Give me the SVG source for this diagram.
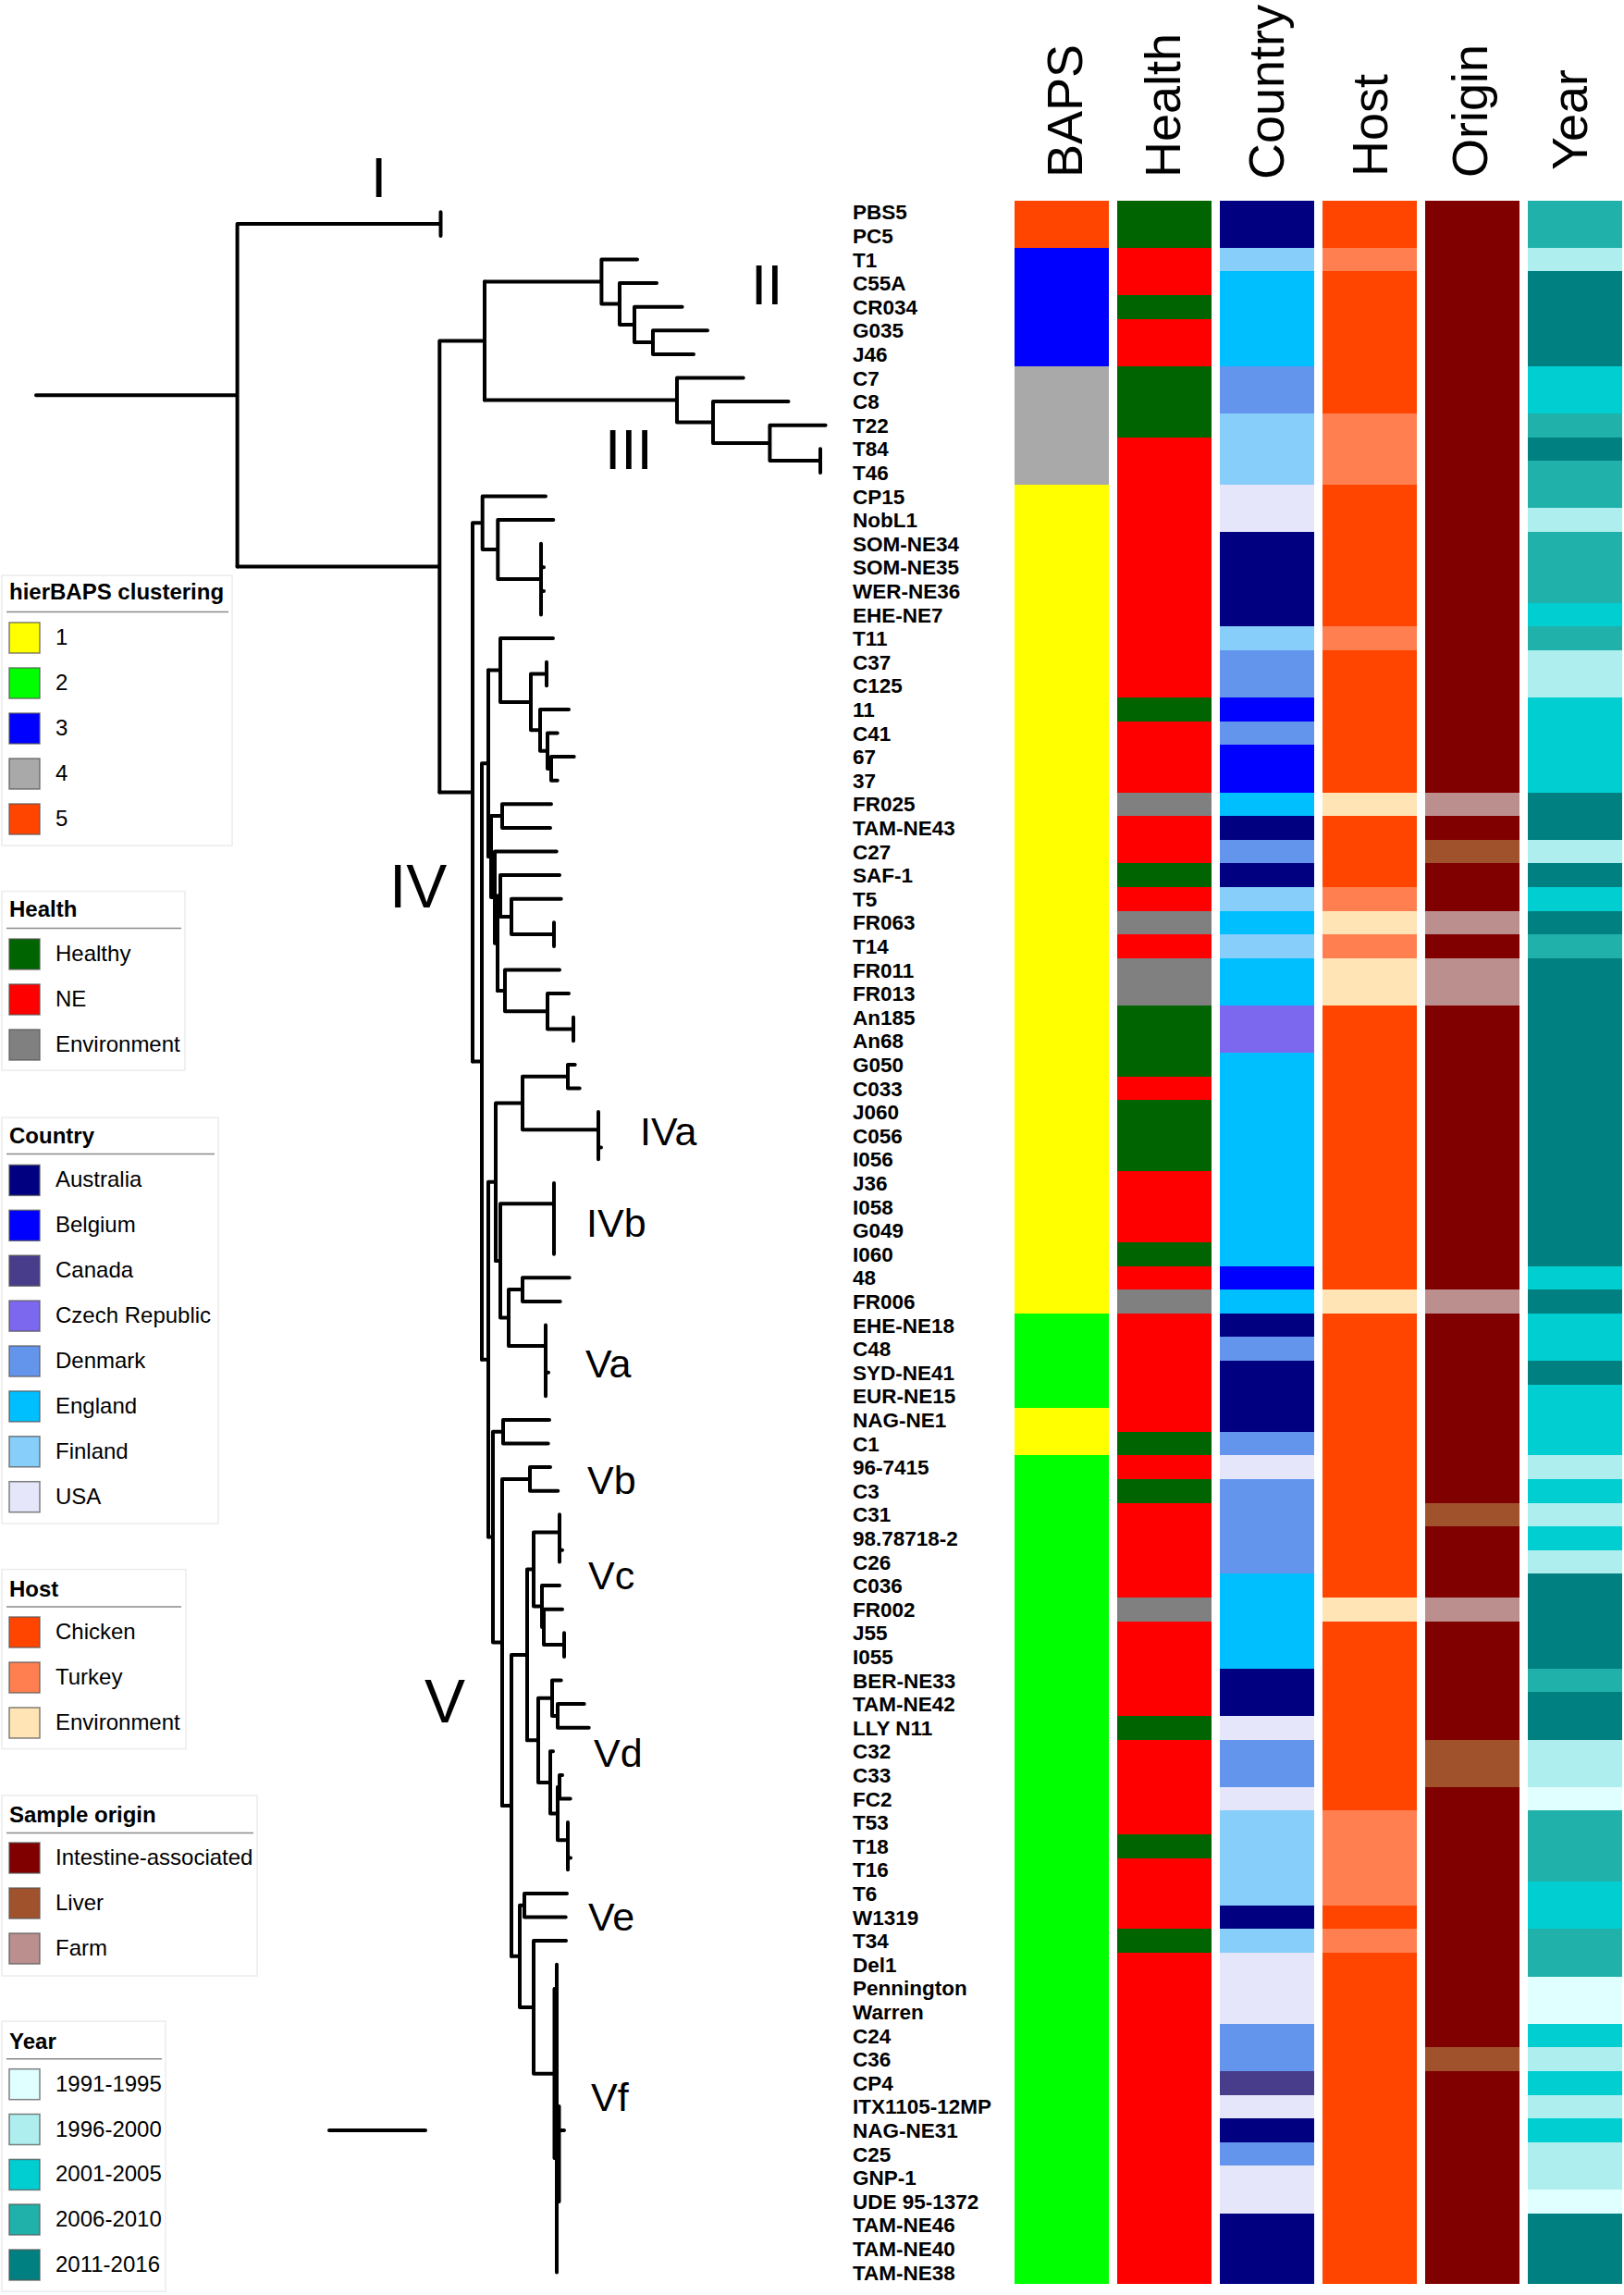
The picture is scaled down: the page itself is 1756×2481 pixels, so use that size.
<svg xmlns="http://www.w3.org/2000/svg" width="1756" height="2481" viewBox="0 0 1756 2481">
<style>
.br{fill:none;stroke:#000;stroke-width:4;stroke-linecap:round;stroke-linejoin:round}
.lab{font-family:"Liberation Sans",Arial,sans-serif;font-weight:bold;font-size:22.5px;fill:#000}
.hdr{font-family:"Liberation Sans",Arial,sans-serif;font-size:54px;fill:#000}
.cl{font-family:"Liberation Sans",Arial,sans-serif;fill:#000}
.big{font-size:62px}.bigger{font-size:66px}.sub{font-size:43px}
.lt{font-family:"Liberation Sans",Arial,sans-serif;font-weight:bold;font-size:24px;fill:#000}
.li{font-family:"Liberation Sans",Arial,sans-serif;font-size:24px;fill:#000}
.box{fill:#fff;stroke:#ececec;stroke-width:1.5}
.ul{stroke:#8a8a8a;stroke-width:1.5}
.sw{stroke:#555;stroke-opacity:0.75;stroke-width:1.5}
.hm rect{shape-rendering:crispEdges}
</style>
<rect width="1756" height="2481" fill="#fff"/>

<g id="heatmap" class="hm">
<g id="col-baps">
<rect x="1096.5" y="216.5" width="102.5" height="51.2" fill="#FF4500"/>
<rect x="1096.5" y="267.7" width="102.5" height="128" fill="#0000FF"/>
<rect x="1096.5" y="395.7" width="102.5" height="128" fill="#A9A9A9"/>
<rect x="1096.5" y="523.7" width="102.5" height="896" fill="#FFFF00"/>
<rect x="1096.5" y="1419.7" width="102.5" height="102.4" fill="#00FF00"/>
<rect x="1096.5" y="1522.1" width="102.5" height="51.2" fill="#FFFF00"/>
<rect x="1096.5" y="1573.3" width="102.5" height="896" fill="#00FF00"/>
</g>
<g id="col-health">
<rect x="1207.5" y="216.5" width="102.5" height="2252.8" fill="#FF0000"/>
<rect x="1207.5" y="216.5" width="102.5" height="51.2" fill="#006400"/>
<rect x="1207.5" y="318.9" width="102.5" height="25.6" fill="#006400"/>
<rect x="1207.5" y="395.7" width="102.5" height="76.8" fill="#006400"/>
<rect x="1207.5" y="754.1" width="102.5" height="25.6" fill="#006400"/>
<rect x="1207.5" y="856.5" width="102.5" height="25.6" fill="#808080"/>
<rect x="1207.5" y="933.3" width="102.5" height="25.6" fill="#006400"/>
<rect x="1207.5" y="984.5" width="102.5" height="25.6" fill="#808080"/>
<rect x="1207.5" y="1035.7" width="102.5" height="51.2" fill="#808080"/>
<rect x="1207.5" y="1086.9" width="102.5" height="76.8" fill="#006400"/>
<rect x="1207.5" y="1189.3" width="102.5" height="76.8" fill="#006400"/>
<rect x="1207.5" y="1342.9" width="102.5" height="25.6" fill="#006400"/>
<rect x="1207.5" y="1394.1" width="102.5" height="25.6" fill="#808080"/>
<rect x="1207.5" y="1547.7" width="102.5" height="25.6" fill="#006400"/>
<rect x="1207.5" y="1598.9" width="102.5" height="25.6" fill="#006400"/>
<rect x="1207.5" y="1726.9" width="102.5" height="25.6" fill="#808080"/>
<rect x="1207.5" y="1854.9" width="102.5" height="25.6" fill="#006400"/>
<rect x="1207.5" y="1982.9" width="102.5" height="25.6" fill="#006400"/>
<rect x="1207.5" y="2085.3" width="102.5" height="25.6" fill="#006400"/>
</g>
<g id="col-country">
<rect x="1318.5" y="216.5" width="102.5" height="51.2" fill="#000080"/>
<rect x="1318.5" y="267.7" width="102.5" height="25.6" fill="#87CEFA"/>
<rect x="1318.5" y="293.3" width="102.5" height="102.4" fill="#00BFFF"/>
<rect x="1318.5" y="395.7" width="102.5" height="51.2" fill="#6495ED"/>
<rect x="1318.5" y="446.9" width="102.5" height="76.8" fill="#87CEFA"/>
<rect x="1318.5" y="523.7" width="102.5" height="51.2" fill="#E6E6FA"/>
<rect x="1318.5" y="574.9" width="102.5" height="102.4" fill="#000080"/>
<rect x="1318.5" y="677.3" width="102.5" height="25.6" fill="#87CEFA"/>
<rect x="1318.5" y="702.9" width="102.5" height="51.2" fill="#6495ED"/>
<rect x="1318.5" y="754.1" width="102.5" height="25.6" fill="#0000FF"/>
<rect x="1318.5" y="779.7" width="102.5" height="25.6" fill="#6495ED"/>
<rect x="1318.5" y="805.3" width="102.5" height="51.2" fill="#0000FF"/>
<rect x="1318.5" y="856.5" width="102.5" height="25.6" fill="#00BFFF"/>
<rect x="1318.5" y="882.1" width="102.5" height="25.6" fill="#000080"/>
<rect x="1318.5" y="907.7" width="102.5" height="25.6" fill="#6495ED"/>
<rect x="1318.5" y="933.3" width="102.5" height="25.6" fill="#000080"/>
<rect x="1318.5" y="958.9" width="102.5" height="25.6" fill="#87CEFA"/>
<rect x="1318.5" y="984.5" width="102.5" height="25.6" fill="#00BFFF"/>
<rect x="1318.5" y="1010.1" width="102.5" height="25.6" fill="#87CEFA"/>
<rect x="1318.5" y="1035.7" width="102.5" height="51.2" fill="#00BFFF"/>
<rect x="1318.5" y="1086.9" width="102.5" height="51.2" fill="#7B68EE"/>
<rect x="1318.5" y="1138.1" width="102.5" height="230.4" fill="#00BFFF"/>
<rect x="1318.5" y="1368.5" width="102.5" height="25.6" fill="#0000FF"/>
<rect x="1318.5" y="1394.1" width="102.5" height="25.6" fill="#00BFFF"/>
<rect x="1318.5" y="1419.7" width="102.5" height="25.6" fill="#000080"/>
<rect x="1318.5" y="1445.3" width="102.5" height="25.6" fill="#6495ED"/>
<rect x="1318.5" y="1470.9" width="102.5" height="76.8" fill="#000080"/>
<rect x="1318.5" y="1547.7" width="102.5" height="25.6" fill="#6495ED"/>
<rect x="1318.5" y="1573.3" width="102.5" height="25.6" fill="#E6E6FA"/>
<rect x="1318.5" y="1598.9" width="102.5" height="102.4" fill="#6495ED"/>
<rect x="1318.5" y="1701.3" width="102.5" height="102.4" fill="#00BFFF"/>
<rect x="1318.5" y="1803.7" width="102.5" height="51.2" fill="#000080"/>
<rect x="1318.5" y="1854.9" width="102.5" height="25.6" fill="#E6E6FA"/>
<rect x="1318.5" y="1880.5" width="102.5" height="51.2" fill="#6495ED"/>
<rect x="1318.5" y="1931.7" width="102.5" height="25.6" fill="#E6E6FA"/>
<rect x="1318.5" y="1957.3" width="102.5" height="102.4" fill="#87CEFA"/>
<rect x="1318.5" y="2059.7" width="102.5" height="25.6" fill="#000080"/>
<rect x="1318.5" y="2085.3" width="102.5" height="25.6" fill="#87CEFA"/>
<rect x="1318.5" y="2110.9" width="102.5" height="76.8" fill="#E6E6FA"/>
<rect x="1318.5" y="2187.7" width="102.5" height="51.2" fill="#6495ED"/>
<rect x="1318.5" y="2238.9" width="102.5" height="25.6" fill="#483D8B"/>
<rect x="1318.5" y="2264.5" width="102.5" height="25.6" fill="#E6E6FA"/>
<rect x="1318.5" y="2290.1" width="102.5" height="25.6" fill="#000080"/>
<rect x="1318.5" y="2315.7" width="102.5" height="25.6" fill="#6495ED"/>
<rect x="1318.5" y="2341.3" width="102.5" height="51.2" fill="#E6E6FA"/>
<rect x="1318.5" y="2392.5" width="102.5" height="76.8" fill="#000080"/>
</g>
<g id="col-host">
<rect x="1429.5" y="216.5" width="102.5" height="2252.8" fill="#FF4500"/>
<rect x="1429.5" y="267.7" width="102.5" height="25.6" fill="#FF7F50"/>
<rect x="1429.5" y="446.9" width="102.5" height="76.8" fill="#FF7F50"/>
<rect x="1429.5" y="677.3" width="102.5" height="25.6" fill="#FF7F50"/>
<rect x="1429.5" y="856.5" width="102.5" height="25.6" fill="#FFE4B5"/>
<rect x="1429.5" y="958.9" width="102.5" height="25.6" fill="#FF7F50"/>
<rect x="1429.5" y="984.5" width="102.5" height="25.6" fill="#FFE4B5"/>
<rect x="1429.5" y="1010.1" width="102.5" height="25.6" fill="#FF7F50"/>
<rect x="1429.5" y="1035.7" width="102.5" height="51.2" fill="#FFE4B5"/>
<rect x="1429.5" y="1394.1" width="102.5" height="25.6" fill="#FFE4B5"/>
<rect x="1429.5" y="1726.9" width="102.5" height="25.6" fill="#FFE4B5"/>
<rect x="1429.5" y="1957.3" width="102.5" height="102.4" fill="#FF7F50"/>
<rect x="1429.5" y="2085.3" width="102.5" height="25.6" fill="#FF7F50"/>
</g>
<g id="col-origin">
<rect x="1540.5" y="216.5" width="102.5" height="2252.8" fill="#800000"/>
<rect x="1540.5" y="856.5" width="102.5" height="25.6" fill="#BC8F8F"/>
<rect x="1540.5" y="907.7" width="102.5" height="25.6" fill="#A0522D"/>
<rect x="1540.5" y="984.5" width="102.5" height="25.6" fill="#BC8F8F"/>
<rect x="1540.5" y="1035.7" width="102.5" height="51.2" fill="#BC8F8F"/>
<rect x="1540.5" y="1394.1" width="102.5" height="25.6" fill="#BC8F8F"/>
<rect x="1540.5" y="1624.5" width="102.5" height="25.6" fill="#A0522D"/>
<rect x="1540.5" y="1726.9" width="102.5" height="25.6" fill="#BC8F8F"/>
<rect x="1540.5" y="1880.5" width="102.5" height="51.2" fill="#A0522D"/>
<rect x="1540.5" y="2213.3" width="102.5" height="25.6" fill="#A0522D"/>
</g>
<g id="col-year">
<rect x="1651.5" y="216.5" width="102.5" height="2252.8" fill="#008080"/>
<rect x="1651.5" y="216.5" width="102.5" height="51.2" fill="#20B2AA"/>
<rect x="1651.5" y="267.7" width="102.5" height="25.6" fill="#AFEEEE"/>
<rect x="1651.5" y="395.7" width="102.5" height="51.2" fill="#00CED1"/>
<rect x="1651.5" y="446.9" width="102.5" height="25.6" fill="#20B2AA"/>
<rect x="1651.5" y="498.1" width="102.5" height="51.2" fill="#20B2AA"/>
<rect x="1651.5" y="549.3" width="102.5" height="25.6" fill="#AFEEEE"/>
<rect x="1651.5" y="574.9" width="102.5" height="76.8" fill="#20B2AA"/>
<rect x="1651.5" y="651.7" width="102.5" height="25.6" fill="#00CED1"/>
<rect x="1651.5" y="677.3" width="102.5" height="25.6" fill="#20B2AA"/>
<rect x="1651.5" y="702.9" width="102.5" height="51.2" fill="#AFEEEE"/>
<rect x="1651.5" y="754.1" width="102.5" height="102.4" fill="#00CED1"/>
<rect x="1651.5" y="907.7" width="102.5" height="25.6" fill="#AFEEEE"/>
<rect x="1651.5" y="958.9" width="102.5" height="25.6" fill="#00CED1"/>
<rect x="1651.5" y="1010.1" width="102.5" height="25.6" fill="#20B2AA"/>
<rect x="1651.5" y="1368.5" width="102.5" height="25.6" fill="#00CED1"/>
<rect x="1651.5" y="1419.7" width="102.5" height="51.2" fill="#00CED1"/>
<rect x="1651.5" y="1496.5" width="102.5" height="76.8" fill="#00CED1"/>
<rect x="1651.5" y="1573.3" width="102.5" height="25.6" fill="#AFEEEE"/>
<rect x="1651.5" y="1598.9" width="102.5" height="25.6" fill="#00CED1"/>
<rect x="1651.5" y="1624.5" width="102.5" height="25.6" fill="#AFEEEE"/>
<rect x="1651.5" y="1650.1" width="102.5" height="25.6" fill="#00CED1"/>
<rect x="1651.5" y="1675.7" width="102.5" height="25.6" fill="#AFEEEE"/>
<rect x="1651.5" y="1803.7" width="102.5" height="25.6" fill="#20B2AA"/>
<rect x="1651.5" y="1880.5" width="102.5" height="51.2" fill="#AFEEEE"/>
<rect x="1651.5" y="1931.7" width="102.5" height="25.6" fill="#E0FFFF"/>
<rect x="1651.5" y="1957.3" width="102.5" height="76.8" fill="#20B2AA"/>
<rect x="1651.5" y="2034.1" width="102.5" height="51.2" fill="#00CED1"/>
<rect x="1651.5" y="2085.3" width="102.5" height="51.2" fill="#20B2AA"/>
<rect x="1651.5" y="2136.5" width="102.5" height="51.2" fill="#E0FFFF"/>
<rect x="1651.5" y="2187.7" width="102.5" height="25.6" fill="#00CED1"/>
<rect x="1651.5" y="2213.3" width="102.5" height="25.6" fill="#AFEEEE"/>
<rect x="1651.5" y="2238.9" width="102.5" height="25.6" fill="#00CED1"/>
<rect x="1651.5" y="2264.5" width="102.5" height="25.6" fill="#AFEEEE"/>
<rect x="1651.5" y="2290.1" width="102.5" height="25.6" fill="#00CED1"/>
<rect x="1651.5" y="2315.7" width="102.5" height="51.2" fill="#AFEEEE"/>
<rect x="1651.5" y="2366.9" width="102.5" height="25.6" fill="#E0FFFF"/>
</g>
</g>

<g id="headers" class="hdr">
<text transform="translate(1170,192) rotate(-90)">BAPS</text>
<text transform="translate(1276,192) rotate(-90)">Health</text>
<text transform="translate(1388,194) rotate(-90)">Country</text>
<text transform="translate(1500,191) rotate(-90)">Host</text>
<text transform="translate(1608,192) rotate(-90)">Origin</text>
<text transform="translate(1716,184) rotate(-90)">Year</text>
</g>

<g id="connectors" class="br">
<path d="M39 427.3H256.6M256.6 242.1V612.5M256.6 242.1H476.5M476.5 229.3V254.9"/>
<path d="M256.6 612.5H475.3M475.3 368.5V856.4M475.3 368.5H524M524 304.5V432.5"/>
<path d="M524 304.5H650.4M650.4 280.5V328.5M650.4 280.5H689M650.4 328.5H670M670 306.1V350.9M670 306.1H710M670 350.9H686M686 331.7V370.1M686 331.7H737.6M686 370.1H706M706 357.3V382.9M706 357.3H765M706 382.9H750"/>
<path d="M524 432.5H732M732 408.5V456.5M732 408.5H803.7M732 456.5H771M771 434.1V478.9M771 434.1H852.5M771 478.9H832.4M832.4 459.7V498.1M832.4 459.7H892.6M832.4 498.1H887M887 485.3V510.9"/>
<path d="M475.3 856.4H511M511 565.3V1147.5M511 565.3H521.7M521.7 536.5V594.1M521.7 536.5H590M521.7 594.1H538.3M538.3 562.1V626.1M538.3 562.1H598.3M538.3 626.1H585M585 587.7V664.5M585 613.3H588M585 638.9H588"/>
<path d="M511 1147.5H521M521 825.3V1469.7M521 825.3H528M528 724.5V926.1"/>
<path d="M528 724.5H541M541 690.1V758.9M541 690.1H598M541 758.9H574M574 728.5V789.3M574 728.5H591M591 715.7V741.3M574 789.3H584M584 766.9V811.7M584 766.9H615M584 811.7H592M592 792.5V830.9M592 792.5H602.7M592 830.9H596M596 818.1V843.7M596 818.1H620.7M596 843.7H602.7"/>
<path d="M528 926.1H531M531 882.1V970.1M531 882.1H543M543 869.3V894.9M543 869.3H596M543 894.9H595M531 970.1H535M535 920.5V1019.7M535 920.5H601.7M535 1019.7H538M538 968.5V1070.9"/>
<path d="M538 968.5H541M541 946.1V990.9M541 946.1H605M541 990.9H553M553 971.7V1010.1M553 971.7H606.7M553 1010.1H599M599 997.3V1022.9"/>
<path d="M538 1070.9H546M546 1048.5V1093.3M546 1048.5H605M546 1093.3H592M592 1074.1V1112.5M592 1074.1H615M592 1112.5H620M620 1099.7V1125.3"/>
<path d="M521 1469.7H528M528 1277.7V1661.6M528 1277.7H536M536 1192.5V1363M536 1192.5H565M565 1163.7V1221.3M565 1163.7H614M614 1150.9V1176.5M614 1150.9H621.7M614 1176.5H626.7M565 1221.3H647M647 1202.1V1253.3M647 1240.5H650"/>
<path d="M536 1363H541M541 1301.3V1424.6M541 1301.3H599M599 1278.9V1355.7M541 1424.6H550M550 1394.1V1455M550 1394.1H565M565 1381.3V1406.9M565 1381.3H615.7M565 1406.9H605.7M550 1455H590M590 1432.5V1509.3M590 1483.7H593"/>
<path d="M528 1661.6H533M533 1547.7V1775.4M533 1547.7H544M544 1534.9V1560.5M544 1534.9H594M544 1560.5H592.7M533 1775.4H543M543 1598.9V1951.9M543 1598.9H573M573 1586.1V1611.7M573 1586.1H595M573 1611.7H603.3"/>
<path d="M543 1951.9H553M553 1788.9V2114.8M553 1788.9H570M570 1696.5V1881.3M570 1696.5H577M577 1656.5V1736.5M577 1656.5H605M605 1637.3V1688.5M605 1675.7H608M577 1736.5H586M586 1714.1V1758.9M586 1714.1H605M586 1758.9H588M588 1739.7V1778.1M588 1739.7H608M588 1778.1H610M610 1765.3V1790.9"/>
<path d="M570 1881.3H582M582 1835.7V1926.9M582 1835.7H597M597 1816.5V1854.9M597 1816.5H606.7M597 1854.9H603M603 1842.1V1867.7M603 1842.1H631.7M603 1867.7H636.7M582 1926.9H595M595 1893.3V1960.5M595 1893.3H598M595 1960.5H603M603 1931.7V1989.3M603 1931.7H605M605 1918.9V1944.5M605 1918.9H608M605 1944.5H616.7M603 1989.3H614M614 1970.1V2021.3M614 2008.5H617"/>
<path d="M553 2114.8H562M562 2059.7V2169.9M562 2059.7H567M567 2046.9V2072.5M567 2046.9H613M567 2072.5H611.7M562 2169.9H577M577 2098.1V2241.7M577 2098.1H612M577 2241.7H602M602 2123.7V2456.5M602 2302.9H610M599.5 2150V2333M604.5 2277V2380"/>
<path d="M356 2303H460"/>
</g>

<g id="clade-labels" class="cl">
<text class="big" x="401" y="212.7">I</text>
<text class="big" x="812" y="329">II</text>
<text class="big" x="654" y="507.3">III</text>
<text class="bigger" x="421" y="981">IV</text>
<text class="bigger" x="459" y="1862">V</text>
<text class="sub" x="692" y="1238">IVa</text>
<text class="sub" x="634" y="1337">IVb</text>
<text class="sub" x="633" y="1489">Va</text>
<text class="sub" x="635" y="1614.5">Vb</text>
<text class="sub" x="636" y="1718">Vc</text>
<text class="sub" x="642" y="1910">Vd</text>
<text class="sub" x="636" y="2087">Ve</text>
<text class="sub" x="639" y="2282">Vf</text>
</g>

<g id="tips" class="lab">
<text x="922" y="237.3">PBS5</text>
<text x="922" y="262.9">PC5</text>
<text x="922" y="288.5">T1</text>
<text x="922" y="314.1">C55A</text>
<text x="922" y="339.7">CR034</text>
<text x="922" y="365.3">G035</text>
<text x="922" y="390.9">J46</text>
<text x="922" y="416.5">C7</text>
<text x="922" y="442.1">C8</text>
<text x="922" y="467.7">T22</text>
<text x="922" y="493.3">T84</text>
<text x="922" y="518.9">T46</text>
<text x="922" y="544.5">CP15</text>
<text x="922" y="570.1">NobL1</text>
<text x="922" y="595.7">SOM-NE34</text>
<text x="922" y="621.3">SOM-NE35</text>
<text x="922" y="646.9">WER-NE36</text>
<text x="922" y="672.5">EHE-NE7</text>
<text x="922" y="698.1">T11</text>
<text x="922" y="723.7">C37</text>
<text x="922" y="749.3">C125</text>
<text x="922" y="774.9">11</text>
<text x="922" y="800.5">C41</text>
<text x="922" y="826.1">67</text>
<text x="922" y="851.7">37</text>
<text x="922" y="877.3">FR025</text>
<text x="922" y="902.9">TAM-NE43</text>
<text x="922" y="928.5">C27</text>
<text x="922" y="954.1">SAF-1</text>
<text x="922" y="979.7">T5</text>
<text x="922" y="1005.3">FR063</text>
<text x="922" y="1030.9">T14</text>
<text x="922" y="1056.5">FR011</text>
<text x="922" y="1082.1">FR013</text>
<text x="922" y="1107.7">An185</text>
<text x="922" y="1133.3">An68</text>
<text x="922" y="1158.9">G050</text>
<text x="922" y="1184.5">C033</text>
<text x="922" y="1210.1">J060</text>
<text x="922" y="1235.7">C056</text>
<text x="922" y="1261.3">I056</text>
<text x="922" y="1286.9">J36</text>
<text x="922" y="1312.5">I058</text>
<text x="922" y="1338.1">G049</text>
<text x="922" y="1363.7">I060</text>
<text x="922" y="1389.3">48</text>
<text x="922" y="1414.9">FR006</text>
<text x="922" y="1440.5">EHE-NE18</text>
<text x="922" y="1466.1">C48</text>
<text x="922" y="1491.7">SYD-NE41</text>
<text x="922" y="1517.3">EUR-NE15</text>
<text x="922" y="1542.9">NAG-NE1</text>
<text x="922" y="1568.5">C1</text>
<text x="922" y="1594.1">96-7415</text>
<text x="922" y="1619.7">C3</text>
<text x="922" y="1645.3">C31</text>
<text x="922" y="1670.9">98.78718-2</text>
<text x="922" y="1696.5">C26</text>
<text x="922" y="1722.1">C036</text>
<text x="922" y="1747.7">FR002</text>
<text x="922" y="1773.3">J55</text>
<text x="922" y="1798.9">I055</text>
<text x="922" y="1824.5">BER-NE33</text>
<text x="922" y="1850.1">TAM-NE42</text>
<text x="922" y="1875.7">LLY N11</text>
<text x="922" y="1901.3">C32</text>
<text x="922" y="1926.9">C33</text>
<text x="922" y="1952.5">FC2</text>
<text x="922" y="1978.1">T53</text>
<text x="922" y="2003.7">T18</text>
<text x="922" y="2029.3">T16</text>
<text x="922" y="2054.9">T6</text>
<text x="922" y="2080.5">W1319</text>
<text x="922" y="2106.1">T34</text>
<text x="922" y="2131.7">Del1</text>
<text x="922" y="2157.3">Pennington</text>
<text x="922" y="2182.9">Warren</text>
<text x="922" y="2208.5">C24</text>
<text x="922" y="2234.1">C36</text>
<text x="922" y="2259.7">CP4</text>
<text x="922" y="2285.3">ITX1105-12MP</text>
<text x="922" y="2310.9">NAG-NE31</text>
<text x="922" y="2336.5">C25</text>
<text x="922" y="2362.1">GNP-1</text>
<text x="922" y="2387.7">UDE 95-1372</text>
<text x="922" y="2413.3">TAM-NE46</text>
<text x="922" y="2438.9">TAM-NE40</text>
<text x="922" y="2464.5">TAM-NE38</text>
</g>

<g id="legend-baps">
<rect class="box" x="2" y="622" width="249" height="292"/>
<text class="lt" x="10" y="648">hierBAPS clustering</text>
<line class="ul" x1="7" y1="661.5" x2="247" y2="661.5"/>
<rect class="sw" x="10" y="673" width="33" height="33" fill="#FFFF00"/><text class="li" x="60" y="697">1</text>
<rect class="sw" x="10" y="722" width="33" height="33" fill="#00FF00"/><text class="li" x="60" y="746">2</text>
<rect class="sw" x="10" y="771" width="33" height="33" fill="#0000FF"/><text class="li" x="60" y="795">3</text>
<rect class="sw" x="10" y="820" width="33" height="33" fill="#A9A9A9"/><text class="li" x="60" y="844">4</text>
<rect class="sw" x="10" y="869" width="33" height="33" fill="#FF4500"/><text class="li" x="60" y="893">5</text>
</g>

<g id="legend-health">
<rect class="box" x="2" y="963.5" width="198" height="193.5"/>
<text class="lt" x="10" y="991">Health</text>
<line class="ul" x1="7" y1="1003.5" x2="196" y2="1003.5"/>
<rect class="sw" x="10" y="1015" width="33" height="33" fill="#006400"/><text class="li" x="60" y="1039">Healthy</text>
<rect class="sw" x="10" y="1064" width="33" height="33" fill="#FF0000"/><text class="li" x="60" y="1088">NE</text>
<rect class="sw" x="10" y="1113" width="33" height="33" fill="#808080"/><text class="li" x="60" y="1137">Environment</text>
</g>

<g id="legend-country">
<rect class="box" x="2" y="1208" width="234" height="439"/>
<text class="lt" x="10" y="1236">Country</text>
<line class="ul" x1="7" y1="1247.6" x2="232" y2="1247.6"/>
<rect class="sw" x="10" y="1259.4" width="33" height="33" fill="#000080"/><text class="li" x="60" y="1283.4">Australia</text>
<rect class="sw" x="10" y="1308.3" width="33" height="33" fill="#0000FF"/><text class="li" x="60" y="1332.3">Belgium</text>
<rect class="sw" x="10" y="1357.2" width="33" height="33" fill="#483D8B"/><text class="li" x="60" y="1381.2">Canada</text>
<rect class="sw" x="10" y="1406.1" width="33" height="33" fill="#7B68EE"/><text class="li" x="60" y="1430.1">Czech Republic</text>
<rect class="sw" x="10" y="1455" width="33" height="33" fill="#6495ED"/><text class="li" x="60" y="1479">Denmark</text>
<rect class="sw" x="10" y="1503.9" width="33" height="33" fill="#00BFFF"/><text class="li" x="60" y="1527.9">England</text>
<rect class="sw" x="10" y="1552.8" width="33" height="33" fill="#87CEFA"/><text class="li" x="60" y="1576.8">Finland</text>
<rect class="sw" x="10" y="1601.7" width="33" height="33" fill="#E6E6FA"/><text class="li" x="60" y="1625.7">USA</text>
</g>

<g id="legend-host">
<rect class="box" x="2" y="1696.6" width="199" height="194"/>
<text class="lt" x="10" y="1726">Host</text>
<line class="ul" x1="7" y1="1737" x2="196" y2="1737"/>
<rect class="sw" x="10" y="1748" width="33" height="33" fill="#FF4500"/><text class="li" x="60" y="1772">Chicken</text>
<rect class="sw" x="10" y="1797" width="33" height="33" fill="#FF7F50"/><text class="li" x="60" y="1821">Turkey</text>
<rect class="sw" x="10" y="1846" width="33" height="33" fill="#FFE4B5"/><text class="li" x="60" y="1870">Environment</text>
</g>

<g id="legend-origin">
<rect class="box" x="2" y="1941" width="276" height="195"/>
<text class="lt" x="10" y="1970.4">Sample origin</text>
<line class="ul" x1="7" y1="1981.4" x2="274" y2="1981.4"/>
<rect class="sw" x="10" y="1992" width="33" height="33" fill="#800000"/><text class="li" x="60" y="2016">Intestine-associated</text>
<rect class="sw" x="10" y="2041" width="33" height="33" fill="#A0522D"/><text class="li" x="60" y="2065">Liver</text>
<rect class="sw" x="10" y="2090" width="33" height="33" fill="#BC8F8F"/><text class="li" x="60" y="2114">Farm</text>
</g>

<g id="legend-year">
<rect class="box" x="2" y="2185" width="177" height="292"/>
<text class="lt" x="10" y="2214.8">Year</text>
<line class="ul" x1="7" y1="2225.7" x2="175" y2="2225.7"/>
<rect class="sw" x="10" y="2236.7" width="33" height="33" fill="#E0FFFF"/><text class="li" x="60" y="2260.7">1991-1995</text>
<rect class="sw" x="10" y="2285.5" width="33" height="33" fill="#AFEEEE"/><text class="li" x="60" y="2309.5">1996-2000</text>
<rect class="sw" x="10" y="2334.4" width="33" height="33" fill="#00CED1"/><text class="li" x="60" y="2358.4">2001-2005</text>
<rect class="sw" x="10" y="2383" width="33" height="33" fill="#20B2AA"/><text class="li" x="60" y="2407">2006-2010</text>
<rect class="sw" x="10" y="2432" width="33" height="33" fill="#008080"/><text class="li" x="60" y="2456">2011-2016</text>
</g>
</svg>
